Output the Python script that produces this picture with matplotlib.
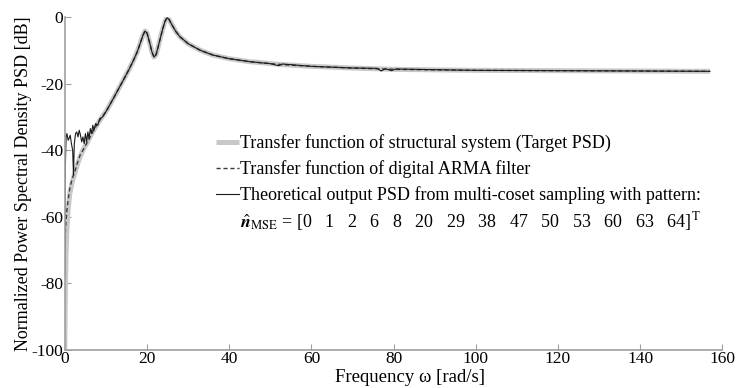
import matplotlib
matplotlib.use("Agg")
import matplotlib.pyplot as plt

# values
omega_target = [0.0, 0.05, 0.15, 0.3, 0.5, 0.8, 1.2, 1.8, 2.4, 3.0, 3.7, 4.4, 5.5, 7.0, 8.5,
                10.2, 12.0, 14.2, 15.5, 16.7, 17.6, 18.3, 19.0, 19.5, 20.0, 20.6, 21.2, 21.7,
                22.2, 22.8, 23.3, 23.9, 24.4, 24.9, 25.4, 26.0, 27.0, 28.0, 30.0, 33.0, 36.0,
                40.0, 45.0, 52.0, 60.0, 70.0, 80.0, 100.0, 120.0, 140.0, 157.0]
psd_target = [-100, -90, -80, -71, -64, -58, -53, -49.5, -47, -44.5, -42, -40, -37.5, -34, -31,
              -28, -24, -19, -16, -13, -10.5, -8, -5.5, -4.2, -4.8, -7.5, -10.5, -12,
              -11.3, -8.5, -6, -3.2, -1.2, -0.2, -0.8, -2.2, -4.3, -5.9, -8.0, -10, -11.4,
              -12.5, -13.4, -14.2, -14.8, -15.3, -15.7, -16.0, -16.1, -16.2, -16.3]

omega_arma = omega_target
psd_arma = [-69, -67, -64, -61, -58, -55, -51.5, -48.5, -46.5, -44, -41.5, -40, -37.5, -34, -31,
            -28, -24, -19, -16, -13, -10.5, -8, -5.5, -4.2, -4.8, -7.5, -10.5, -12,
            -11.3, -8.5, -6, -3.2, -1.2, -0.2, -0.8, -2.2, -4.3, -5.9, -8.0, -10, -11.4,
            -12.5, -13.4, -14.2, -14.8, -15.3, -15.7, -16.0, -16.1, -16.2, -16.3]

omega_mc = [0.0, 0.1, 0.3, 0.5, 0.8, 1.0, 1.3, 1.6, 1.9, 2.1, 2.3, 2.6, 2.9, 3.2, 3.5, 3.8,
            4.1, 4.4, 4.7, 5.0, 5.3, 5.6, 5.9, 6.2, 6.5, 6.8, 7.1, 7.5, 8.0, 8.5, 9.2,
            10.2, 12.0, 14.2, 15.5, 16.7, 17.6, 18.3, 19.0, 19.5, 20.0, 20.6, 21.2, 21.7,
            22.2, 22.8, 23.3, 23.9, 24.4, 24.9, 25.4, 26.0, 27.0, 28.0, 30.0, 33.0, 36.0,
            40.0, 45.0, 50.0, 52.0, 53.0, 60.0, 70.0, 76.0, 77.0, 78.0, 79.5, 80.5,
            100.0, 120.0, 140.0, 157.0]
psd_mc = [-78, -46, -36, -35, -37, -36.5, -35.5, -38, -40, -47.5, -38, -35, -34.5, -36, -34, -35.5,
          -37.5, -36, -38, -35, -37.5, -34.5, -36.5, -33.5, -35, -32.5, -34, -32, -32.5, -30.5, -30,
          -28, -24, -19, -16, -13, -10.5, -8, -5.5, -4.2, -4.8, -7.5, -10.5, -12,
          -11.3, -8.5, -6, -3.2, -1.2, -0.2, -0.8, -2.2, -4.3, -5.9, -8.0, -10, -11.4,
          -12.5, -13.4, -14.0, -14.6, -14.1, -14.8, -15.3, -15.4, -16.2, -15.5, -16.1, -15.6,
          -16.0, -16.1, -16.2, -16.3]

pattern = [0, 1, 2, 6, 8, 20, 29, 38, 47, 50, 53, 60, 63, 64]

labels = ["Transfer function of structural system (Target PSD)",
          "Transfer function of digital ARMA filter",
          "Theoretical output PSD from multi-coset sampling with pattern:"]

plt.rcParams["font.family"] = ["Liberation Serif", "DejaVu Serif"]
plt.rcParams["mathtext.fontset"] = "stix"
plt.rcParams["axes.unicode_minus"] = False

fig = plt.figure(figsize=(7.37, 3.88), dpi=100)
ax = fig.add_axes([0.088, 0.098, 0.892, 0.858])

ax.plot(omega_target, psd_target, color="#c8c8c8", lw=3.6, label=labels[0],
        solid_capstyle="butt")
ax.plot(omega_arma, psd_arma, color="#3a3a3a", lw=1.0, ls=(0, (3, 2)), label=labels[1])
ax.plot(omega_mc, psd_mc, color="#1a1a1a", lw=0.8, label=labels[2])

ax.set_xlim(0, 160)
ax.set_ylim(-100, 0)
ax.set_xticks(range(0, 161, 20))
ax.set_yticks(range(-100, 1, 20))
for s in ["top", "right"]:
    ax.spines[s].set_visible(False)
for s in ["left", "bottom"]:
    ax.spines[s].set_color("#a0a0a0")
    ax.spines[s].set_linewidth(1.2)
ax.tick_params(direction="in", length=4, color="#a0a0a0", labelsize=12.5, pad=1)

ax.set_xlabel("Frequency \u03c9 [rad/s]", fontsize=13.5)
ax.xaxis.set_label_coords(0.525, -0.056)
ax.set_ylabel("Normalized Power Spectral Density PSD [dB]", fontsize=13, labelpad=0)

leg = fig.legend(loc="upper left", bbox_to_anchor=(0.293, 0.654), frameon=False,
                 fontsize=13, handlelength=1.25, handletextpad=0.1, labelspacing=0.45,
                 borderpad=0, borderaxespad=0)

nums = "   ".join(str(p) for p in pattern)
fig.text(0.326, 0.43, r"$\hat{\mathbfit{n}}_{\mathrm{MSE}}$" + " = [" + nums + r"]$^{\mathrm{T}}$",
         fontsize=13, ha="left", va="center")

fig.savefig("out.png", dpi=100)
